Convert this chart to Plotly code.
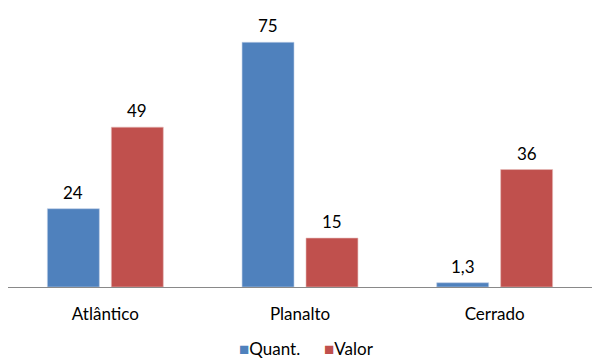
import plotly.graph_objects as go

categorias = ["Atlântico", "Planalto", "Cerrado"]
quant = [24, 75, 1.3]
valor = [49, 15, 36]

fonte = "Lato, 'Open Sans', sans-serif"
azul = "#4F81BD"
vermelho = "#C0504D"

fig = go.Figure()
fig.add_trace(go.Bar(
    name="Quant.", x=categorias, y=quant,
    marker=dict(color=azul, line=dict(color="#BCCDE6", width=0.6)),
))
fig.add_trace(go.Bar(
    name="Valor", x=categorias, y=valor,
    marker=dict(color=vermelho, line=dict(color="#E6BCBB", width=0.6)),
))


def rotulo(v):
    return f"{v:g}".replace(".", ",")


# value labels above each bar (bars sit 32 px either side of the category centre)
anotacoes = []
for serie, deslocamento in ((quant, -32), (valor, 32)):
    for cat, v in zip(categorias, serie):
        anotacoes.append(dict(
            x=cat, y=v, xref="x", yref="y", text=rotulo(v), showarrow=False,
            xshift=deslocamento, yshift=4, yanchor="bottom",
            font=dict(family=fonte, size=17, color="#000000"),
        ))

# legend drawn as text with coloured squares
for nome, cor, xpos in (("Quant.", azul, 0.392), ("Valor", vermelho, 0.538)):
    anotacoes.append(dict(
        x=xpos, y=-0.237, xref="paper", yref="paper", xanchor="left", yanchor="middle",
        showarrow=False,
        text=f"<span style='color:{cor}'>■</span>{nome}",
        font=dict(family=fonte, size=17, color="#000000"),
    ))

fig.update_layout(
    width=592, height=361,
    margin=dict(l=8, r=0, t=26, b=74),
    paper_bgcolor="white", plot_bgcolor="white",
    barmode="group", bargap=0.343, bargroupgap=0.1875,
    showlegend=False,
    annotations=anotacoes,
    font=dict(family=fonte, size=17, color="#000000"),
)
fig.update_xaxes(showline=True, linecolor="#898989", linewidth=1,
                 ticks="", ticklabelstandoff=12,
                 tickfont=dict(family=fonte, size=17, color="#000000"))
fig.update_yaxes(range=[0, 80], visible=False, showgrid=False, zeroline=False)

fig.write_html("out.html")
